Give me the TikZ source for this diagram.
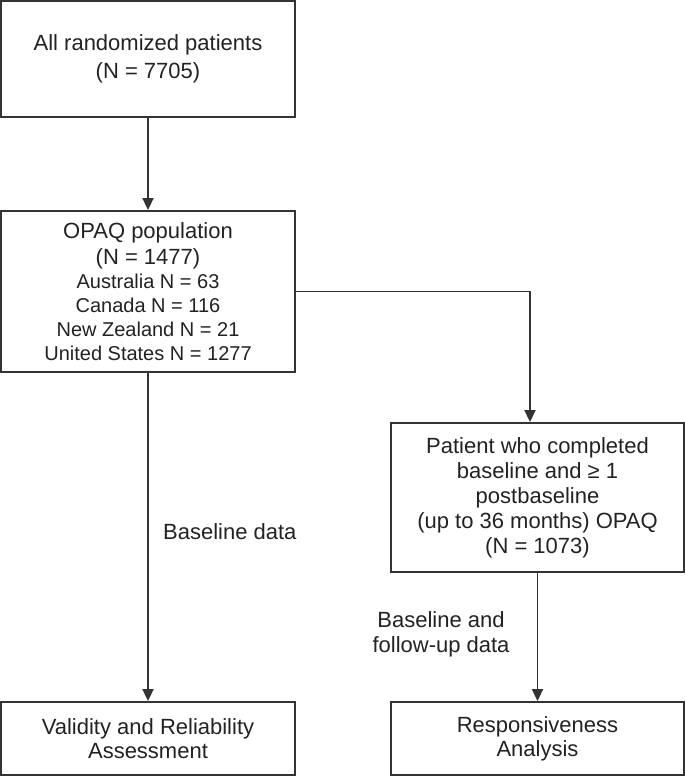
\documentclass[tikz,border=0pt]{standalone}
\usepackage{fontspec}
\setmainfont{Liberation Sans}
\usetikzlibrary{arrows.meta}
\definecolor{ink}{HTML}{222222}
\definecolor{edge}{HTML}{333333}
\newcommand{\smallline}[1]{{\fontsize{20}{24}\selectfont #1}}
\tikzset{
  box/.style={draw=edge, line width=1.9pt, rectangle, align=center, text=ink, inner sep=0pt},
  conn/.style={draw=edge, line width=1.9pt},
  arr/.style={conn, -{Triangle[length=12pt,width=11pt]}},
  lbl/.style={text=ink, align=center, inner sep=0pt, font=\fontsize{22}{25}\selectfont},
}
\begin{document}
\begin{tikzpicture}[x=1pt,y=-1pt]
\useasboundingbox (0,0) rectangle (685,776);
\node[box, minimum width=294pt, minimum height=116pt, font=\fontsize{22}{28}\selectfont] (b1) at (148,59) {All randomized patients\\(N = 7705)};
\node[box, minimum width=294pt, minimum height=161pt, font=\fontsize{22}{26}\selectfont] (b2) at (148,291.5)
  {OPAQ population\\(N = 1477)\\[-2pt]
   \smallline{Australia N = 63}\\[-2pt]\smallline{Canada N = 116}\\[-2pt]\smallline{New Zealand N = 21}\\[-2pt]\smallline{United States N = 1277}};
\node[box, minimum width=293pt, minimum height=149pt, font=\fontsize{22}{25}\selectfont] (b3) at (537.5,497.5)
  {Patient who completed\\baseline and ≥ 1\\postbaseline\\(up to 36 months) OPAQ\\(N = 1073)};
\node[box, minimum width=294pt, minimum height=73pt, font=\fontsize{22}{24}\selectfont] (b4) at (148,738.5) {Validity and Reliability\\Assessment};
\node[box, minimum width=293pt, minimum height=73pt, font=\fontsize{22}{24}\selectfont] (b5) at (537.5,738.5) {Responsiveness\\Analysis};
\draw[arr] (b1) -- (b2);
\draw[arr] (b2) -- (b4);
\draw[arr] (b2.east) -| ([xshift=-7.5pt]b3.north);
\draw[arr] (b3) -- (b5);
\node[lbl, anchor=west] (l1) at (163,532) {Baseline data};
\node[lbl] (l2) at (441,634) {Baseline and\\follow-up data};
\end{tikzpicture}
\end{document}
